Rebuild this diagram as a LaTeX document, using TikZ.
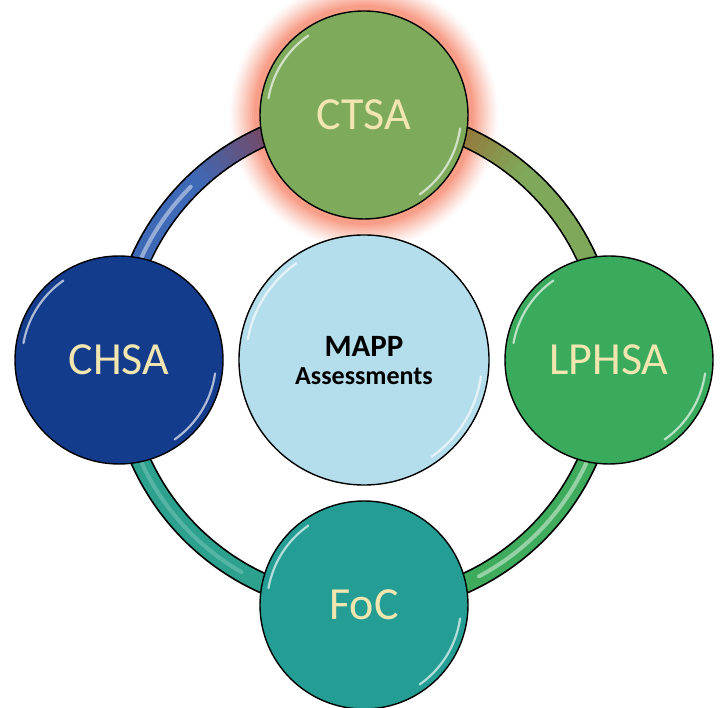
\documentclass[tikz,border=0pt]{standalone}
\usepackage{fontspec}
\setmainfont{Carlito}
\definecolor{glowc}{RGB}{248,158,136}
\definecolor{ctsac}{RGB}{126,170,92}
\definecolor{chsac}{RGB}{20,60,140}
\definecolor{lphsac}{RGB}{58,170,92}
\definecolor{focc}{RGB}{36,158,148}
\definecolor{centc}{RGB}{181,222,236}
\definecolor{txtc}{RGB}{242,230,176}
\definecolor{ringblue}{RGB}{62,105,182}
\definecolor{ringpurp}{RGB}{118,72,100}
\definecolor{ringolive}{RGB}{128,168,90}
\definecolor{ringbrown}{RGB}{150,118,58}
\definecolor{ringgreen}{RGB}{62,172,92}
\definecolor{ringteal}{RGB}{44,162,142}
\tikzset{
  bigcirc/.style={circle, draw=black, line width=1.4pt, minimum size=208, inner sep=0pt,
    text=txtc, font=\fontsize{46}{50}\selectfont},
  shine/.style={white, line width=2.2pt, line cap=round, opacity=0.65},
  ringseg/.style={line width=17.5pt},
  ringhl/.style={line width=4pt, opacity=0.45, white, line cap=round}
}
\begin{document}
\begin{tikzpicture}[x=1pt,y=1pt]
\useasboundingbox (0,0) rectangle (720,708);
\coordinate (c) at (364,348);
\coordinate (glowcenter) at (364,593);
% glow behind CTSA
\foreach \i in {0,...,13}{
  \pgfmathsetmacro\p{100*(\i/13)^1.2}
  \fill[glowc!\p!white] (glowcenter) circle ({136-2*\i});
}
% ring
\draw[black, line width=21pt] (c) circle (245);
\foreach \a in {90,92,...,178}{
  \pgfmathsetmacro\p{min(100,max(0,(\a-112)*5))}
  \draw[ringseg, draw=ringblue!\p!ringpurp] (c) ++(\a:245) arc[start angle=\a, end angle=\a+2.6, radius=245];
}
\foreach \a in {0,2,...,88}{
  \pgfmathsetmacro\p{min(100,max(0,(66-\a)*6))}
  \draw[ringseg, draw=ringolive!\p!ringbrown] (c) ++(\a:245) arc[start angle=\a, end angle=\a+2.6, radius=245];
}
\draw[ringseg, ringgreen] (c) ++(0:245) arc[start angle=0, end angle=-90, radius=245];
\draw[ringseg, ringteal] (c) ++(180:245) arc[start angle=180, end angle=270, radius=245];
\draw[ringhl] (c) ++(135:245) arc[start angle=135, end angle=158, radius=245];
\draw[ringhl] (c) ++(-25:245) arc[start angle=-25, end angle=-62, radius=245];
\draw[ringhl, opacity=0.2] (c) ++(205:245) arc[start angle=205, end angle=240, radius=245];
% circles
\node[bigcirc, fill=ctsac] (ctsa) at (364,593) {CTSA};
\node[bigcirc, fill=chsac] (chsa) at (119,348) {CHSA};
\node[bigcirc, fill=lphsac] (lphsa) at (609,348) {LPHSA};
\node[bigcirc, fill=focc] (foc) at (364,103) {FoC};
\node[circle, draw=black, line width=1.4pt, fill=centc, minimum size=250, inner sep=0pt] (mapp) at (364,348) {};
\node[anchor=base, inner sep=0pt, font=\fontsize{31}{34}\selectfont\bfseries] (mapptitle) at (364,351) {MAPP};
\node[anchor=base, inner sep=0pt, font=\fontsize{26}{30}\selectfont\bfseries] (mappsub) at (364,323) {Assessments};
% shine highlights
\foreach \n/\r in {ctsa/97,chsa/97,lphsa/97,foc/97,mapp/118}{
  \draw[shine] ([shift={(125:\r)}]\n.center) arc[start angle=125, end angle=170, radius=\r];
  \draw[shine] ([shift={(-8:\r)}]\n.center) arc[start angle=-8, end angle=-55, radius=\r];
}
\end{tikzpicture}
\end{document}
